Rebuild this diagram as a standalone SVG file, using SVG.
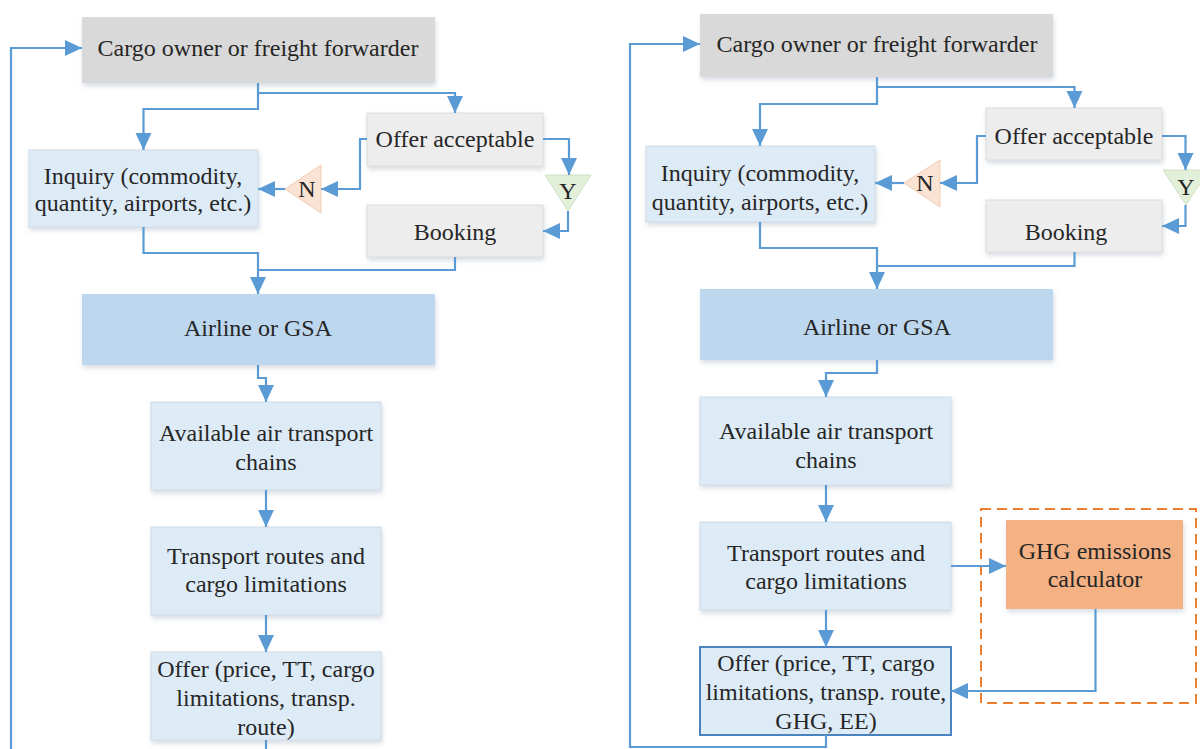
<svg xmlns="http://www.w3.org/2000/svg" width="1200" height="749" viewBox="0 0 1200 749">
<style>
text{font-family:"Liberation Serif","Times New Roman",serif;font-size:24px;fill:#262626;text-anchor:middle}
.gray{fill:#D9D9D9}
.lgray{fill:#EDEDED;stroke:#DCDCDC;stroke-width:1}
.lblue{fill:#DDEBF7;stroke:#D0DCE8;stroke-width:1}
.mblue{fill:#BDD7EE}
.off2{fill:#DDEBF7;stroke:#4A83BD;stroke-width:2}
.ghg{fill:#F4B183}
.ntri{fill:#FBE3D3;stroke:#F0CDB5;stroke-width:1}
.ytri{fill:#E2EFD9;stroke:#CFE2C3;stroke-width:1}
.c{fill:none;stroke:#5B9BD5;stroke-width:2.2}
.dash{fill:none;stroke:#ED7D31;stroke-width:2;stroke-dasharray:10 6}
</style>
<defs>
<marker id="ah" markerUnits="userSpaceOnUse" markerWidth="18" markerHeight="18" viewBox="0 0 18 18" refX="17" refY="9" orient="auto">
<path d="M0,1 L17,9 L0,17 z" fill="#5B9BD5"/>
</marker>
<filter id="sh" x="-10%" y="-10%" width="130%" height="140%">
<feDropShadow dx="1" dy="3" stdDeviation="2.5" flood-color="#7a8fa6" flood-opacity="0.3"/>
</filter>
</defs>

<!-- LEFT PANEL -->
<g id="L-cargo"><rect x="82" y="17" width="353" height="66" class="gray" filter="url(#sh)"/><text x="258" y="56">Cargo owner or freight forwarder</text></g>
<g id="L-inquiry"><rect x="29" y="150" width="229" height="77" class="lblue" filter="url(#sh)"/><text x="143" y="184">Inquiry (commodity,</text><text x="143" y="211">quantity, airports, etc.)</text></g>
<g id="L-offeracc"><rect x="367" y="113" width="176" height="53" class="lgray" filter="url(#sh)"/><text x="455" y="147">Offer acceptable</text></g>
<g id="L-N"><polygon points="285,189 321,165 321,213" class="ntri"/><text x="307" y="197">N</text></g>
<g id="L-Y"><polygon points="545,175 591,175 568,211" class="ytri"/><text x="568" y="199">Y</text></g>
<g id="L-booking"><rect x="367" y="205" width="176" height="52" class="lgray" filter="url(#sh)"/><text x="455" y="240">Booking</text></g>
<g id="L-airline"><rect x="82" y="294" width="353" height="71" class="mblue" filter="url(#sh)"/><text x="258" y="336">Airline or GSA</text></g>
<g id="L-available"><rect x="151" y="402" width="230" height="88" class="lblue" filter="url(#sh)"/><text x="266" y="441">Available air transport</text><text x="266" y="470">chains</text></g>
<g id="L-transport"><rect x="151" y="527" width="230" height="88" class="lblue" filter="url(#sh)"/><text x="266" y="564">Transport routes and</text><text x="266" y="592">cargo limitations</text></g>
<g id="L-offer"><rect x="151" y="652" width="230" height="88" class="lblue" filter="url(#sh)"/><text x="266" y="677">Offer (price, TT, cargo</text><text x="266" y="706">limitations, transp.</text><text x="266" y="735">route)</text></g>

<!-- RIGHT PANEL -->
<g id="R-dashed"><rect x="981" y="509" width="215" height="194" class="dash"/></g>
<g id="R-cargo"><rect x="700" y="14" width="353" height="63" class="gray" filter="url(#sh)"/><text x="877" y="52">Cargo owner or freight forwarder</text></g>
<g id="R-inquiry"><rect x="646" y="146" width="229" height="76" class="lblue" filter="url(#sh)"/><text x="760" y="181">Inquiry (commodity,</text><text x="760" y="210">quantity, airports, etc.)</text></g>
<g id="R-offeracc"><rect x="986" y="108" width="176" height="52" class="lgray" filter="url(#sh)"/><text x="1074" y="144">Offer acceptable</text></g>
<g id="R-N"><polygon points="904,183 940,160 940,207" class="ntri"/><text x="925" y="191">N</text></g>
<g id="R-Y"><polygon points="1163,170 1209,170 1186,205" class="ytri"/><text x="1186" y="195">Y</text></g>
<g id="R-booking"><rect x="986" y="200" width="176" height="52" class="lgray" filter="url(#sh)"/><text x="1066" y="240">Booking</text></g>
<g id="R-airline"><rect x="700" y="289" width="353" height="71" class="mblue" filter="url(#sh)"/><text x="877" y="335">Airline or GSA</text></g>
<g id="R-available"><rect x="700" y="397" width="251" height="88" class="lblue" filter="url(#sh)"/><text x="826" y="439">Available air transport</text><text x="826" y="468">chains</text></g>
<g id="R-transport"><rect x="700" y="522" width="251" height="88" class="lblue" filter="url(#sh)"/><text x="826" y="561">Transport routes and</text><text x="826" y="589">cargo limitations</text></g>
<g id="R-ghg"><rect x="1006" y="520" width="177" height="89" class="ghg" filter="url(#sh)"/><text x="1095" y="559">GHG emissions</text><text x="1095" y="587">calculator</text></g>
<g id="R-offer"><rect x="700" y="647" width="251" height="88" class="off2"/><text x="826" y="671">Offer (price, TT, cargo</text><text x="826" y="700">limitations, transp. route,</text><text x="826" y="729">GHG, EE)</text></g>

<g id="connectors">
<!-- left -->
<path class="c" d="M11,749 V48 H82" marker-end="url(#ah)"/>
<path class="c" d="M258,83 V109 H143.5 V150" marker-end="url(#ah)"/>
<path class="c" d="M258,93 H455 V113" marker-end="url(#ah)"/>
<path class="c" d="M285,189 H258" marker-end="url(#ah)"/>
<path class="c" d="M367,139 H360 V189 H321" marker-end="url(#ah)"/>
<path class="c" d="M543,139 H569 V175" marker-end="url(#ah)"/>
<path class="c" d="M568,211 V231 H543" marker-end="url(#ah)"/>
<path class="c" d="M143.5,227 V253 H258 V294" marker-end="url(#ah)"/>
<path class="c" d="M455,257 V270 H258"/>
<path class="c" d="M258,365 V378 H266 V402" marker-end="url(#ah)"/>
<path class="c" d="M266,490 V527" marker-end="url(#ah)"/>
<path class="c" d="M266,615 V652" marker-end="url(#ah)"/>
<path class="c" d="M266,740 V749"/>
<!-- right -->
<path class="c" d="M826,735 V747 H630 V44 H700" marker-end="url(#ah)"/>
<path class="c" d="M877,77 V104 H760 V146" marker-end="url(#ah)"/>
<path class="c" d="M877,87 H1074.5 V108" marker-end="url(#ah)"/>
<path class="c" d="M904,183 H875" marker-end="url(#ah)"/>
<path class="c" d="M986,136 H977 V183 H940" marker-end="url(#ah)"/>
<path class="c" d="M1162,136 H1185.5 V170" marker-end="url(#ah)"/>
<path class="c" d="M1185.5,205 V226 H1162" marker-end="url(#ah)"/>
<path class="c" d="M760,222 V248 H877 V289" marker-end="url(#ah)"/>
<path class="c" d="M1074.5,252 V266 H877"/>
<path class="c" d="M877,360 V373 H826 V397" marker-end="url(#ah)"/>
<path class="c" d="M826,485 V522" marker-end="url(#ah)"/>
<path class="c" d="M826,610 V647" marker-end="url(#ah)"/>
<path class="c" d="M951,566 H1006" marker-end="url(#ah)"/>
<path class="c" d="M1095.5,609 V691 H951" marker-end="url(#ah)"/>
</g>
</svg>
